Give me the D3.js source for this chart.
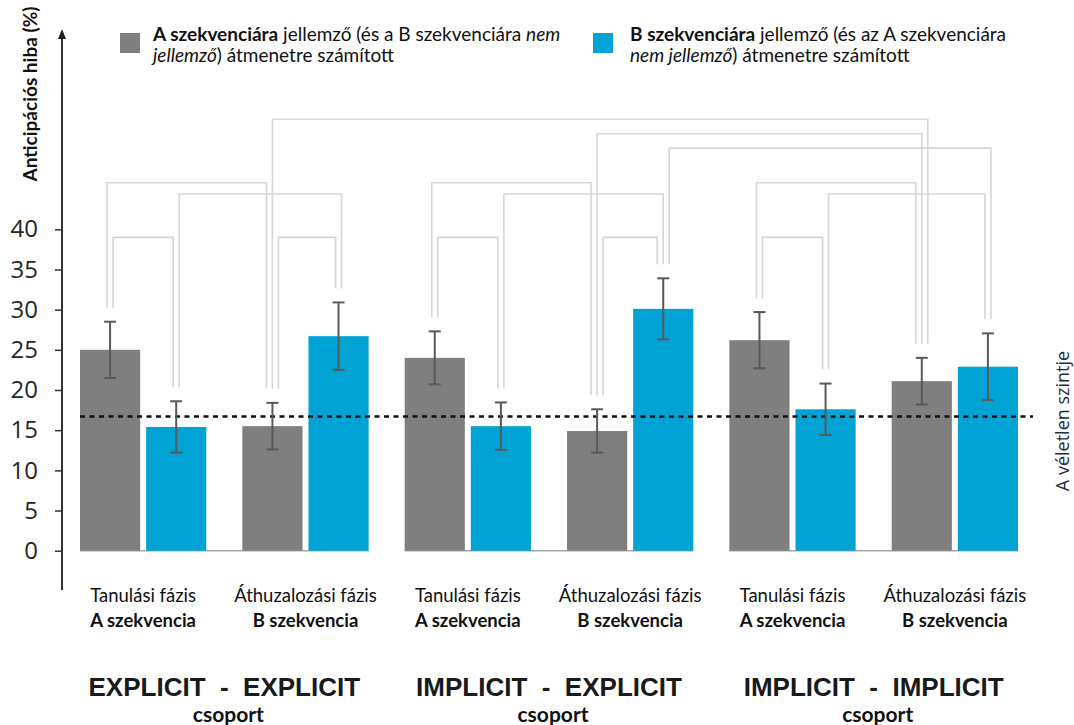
<!DOCTYPE html>
<html>
<head>
<meta charset="utf-8">
<script src="https://cdn.jsdelivr.net/npm/d3@7"></script>
<style>
  html, body { margin: 0; padding: 0; background: #fff; }
  svg { display: block; }
  text { white-space: pre; }
</style>
</head>
<body>
<svg id="chart" width="1074" height="725"></svg>
<script>
// Groups, phases and sequences along the x axis
const groups = ["EXPLICIT  -  EXPLICIT", "IMPLICIT  -  EXPLICIT", "IMPLICIT  -  IMPLICIT"];
const groupSub = ["csoport", "csoport", "csoport"];
const phases = ["Tanulási fázis", "Áthuzalozási fázis"];
const sequences = ["A szekvencia", "B szekvencia"];
const seriesKeys = ["A", "B"];

// Mean anticipation error (%) per group × phase, for A-typical and B-typical transitions
const valuesA = [25.0, 15.5, 24.0, 14.9, 26.2, 21.1];
const valuesB = [15.4, 26.7, 15.5, 30.1, 17.6, 22.9];
// Error bar half-lengths
const errorA = [3.5, 2.9, 3.3, 2.7, 3.5, 2.9];
const errorB = [3.2, 4.2, 2.95, 3.8, 3.2, 4.15];

const chanceLevel = 16.7;
const yTicks = [0, 5, 10, 15, 20, 25, 30, 35, 40];

// Significance brackets: [from bar, to bar, tier]; bars are numbered group*4 + phase*2 + series
const comparisons = [
  [0, 2, 3], [0, 1, 5], [1, 3, 4], [2, 3, 5], [2, 10, 0],
  [4, 6, 3], [4, 5, 5], [5, 7, 4], [6, 7, 5], [6, 10, 1], [7, 11, 2],
  [8, 10, 3], [8, 9, 5], [9, 11, 4]
];
// Height of each bracket tier, in axis units
const tierLevels = [53.7, 51.9, 50.1, 45.8, 44.4, 39.0];

const colors = { A: "#7f7f7f", B: "#00a3d4" };

const svg = d3.select("#chart");

const y = d3.scaleLinear().domain([0, 40]).range([550.7, 229.3]);

const xGroup = d3.scaleBand().domain(d3.range(groups.length)).range([80, 1018]).paddingInner(0.111);
const xPhase = d3.scaleBand().domain(d3.range(phases.length)).range([0, xGroup.bandwidth()]).paddingInner(0.222);
const xSeries = d3.scaleBand().domain(seriesKeys).range([0, xPhase.bandwidth()]).paddingInner(0.09);

// Flatten bars
const bars = [];
groups.forEach((g, gi) => {
  phases.forEach((p, pi) => {
    const k = gi * 2 + pi;
    seriesKeys.forEach((s, si) => {
      const v = s === "A" ? valuesA[k] : valuesB[k];
      const e = s === "A" ? errorA[k] : errorB[k];
      const x0 = xGroup(gi) + xPhase(pi) + xSeries(s);
      bars.push({ gi, pi, s, v, e, x0, cx: x0 + xSeries.bandwidth() / 2 });
    });
  });
});

// Y axis with arrow
const axisX = 62;
svg.append("defs").append("marker")
  .attr("id", "arrow").attr("viewBox", "0 0 10 10").attr("refX", 5).attr("refY", 5)
  .attr("markerWidth", 5).attr("markerHeight", 5).attr("orient", "auto")
  .append("path").attr("d", "M0,1 L10,5 L0,9 Z").attr("fill", "#222");

svg.append("line")
  .attr("x1", axisX).attr("x2", axisX).attr("y1", 590).attr("y2", 34)
  .attr("stroke", "#333").attr("stroke-width", 2).attr("marker-end", "url(#arrow)");

const yAxis = d3.axisLeft(y).tickValues(yTicks).tickSize(7).tickPadding(17).tickFormat(d3.format("d"));
const yAxisG = svg.append("g").attr("transform", `translate(${axisX},0)`).call(yAxis);
yAxisG.select(".domain").remove();
yAxisG.selectAll(".tick line").attr("stroke", "#333").attr("stroke-width", 1.5);
yAxisG.selectAll(".tick text")
  .attr("font-family", "'Open Sans', sans-serif").attr("font-size", 24).attr("fill", "#262626");

// Y axis title
svg.append("text")
  .attr("transform", "translate(37,94) rotate(-90)")
  .attr("text-anchor", "middle")
  .attr("font-family", "Lato, sans-serif").attr("font-weight", "bold").attr("font-size", 19)
  .attr("fill", "#111")
  .text("Anticipációs hiba (%)");

// Brackets
const legs = bars.map(() => []);
comparisons.forEach((c, ci) => {
  const [a, b, t] = c;
  legs[a].push({ ci, dir: "right", ty: y(tierLevels[t]) });
  legs[b].push({ ci, dir: "left", ty: y(tierLevels[t]) });
});
const legX = {};
legs.forEach((list, bi) => {
  const left = list.filter(d => d.dir === "left").sort((p, q) => q.ty - p.ty);
  const right = list.filter(d => d.dir === "right").sort((p, q) => p.ty - q.ty);
  const ordered = left.concat(right);
  ordered.forEach((d, i) => {
    legX[d.ci + "_" + bi] = bars[bi].cx + (i - (ordered.length - 1) / 2) * 6;
  });
});
const legGap = 14;
const bracketG = svg.append("g").attr("fill", "none").attr("stroke", "#d6d6d6").attr("stroke-width", 1.6);
comparisons.forEach((c, ci) => {
  const [a, b, t] = c;
  const ty = y(tierLevels[t]);
  const xa = legX[ci + "_" + a], xb = legX[ci + "_" + b];
  const ya = y(bars[a].v + bars[a].e) - legGap;
  const yb = y(bars[b].v + bars[b].e) - legGap;
  bracketG.append("path").attr("d", `M${xa},${ya} V${ty} H${xb} V${yb}`);
});

// Group baselines
svg.append("g").selectAll("line").data(groups).join("line")
  .attr("x1", (d, i) => xGroup(i)).attr("x2", (d, i) => xGroup(i) + xGroup.bandwidth())
  .attr("y1", y(0)).attr("y2", y(0))
  .attr("stroke", "#a6a6a6").attr("stroke-width", 1.5);

// Bars
svg.append("g").selectAll("rect").data(bars).join("rect")
  .attr("x", d => d.x0).attr("width", xSeries.bandwidth())
  .attr("y", d => y(d.v)).attr("height", d => y(0) - y(d.v))
  .attr("fill", d => colors[d.s]);

// Chance level line
svg.append("line")
  .attr("x1", 80).attr("x2", 1033).attr("y1", y(chanceLevel)).attr("y2", y(chanceLevel))
  .attr("stroke", "#111").attr("stroke-width", 2.5).attr("stroke-dasharray", "5,4.5");

// Error bars
const errG = svg.append("g").attr("stroke", "#595959").attr("stroke-width", 2);
bars.forEach(d => {
  const t = y(d.v + d.e), b = y(d.v - d.e);
  errG.append("line").attr("x1", d.cx).attr("x2", d.cx).attr("y1", t).attr("y2", b);
  errG.append("line").attr("x1", d.cx - 6).attr("x2", d.cx + 6).attr("y1", t).attr("y2", t);
  errG.append("line").attr("x1", d.cx - 6).attr("x2", d.cx + 6).attr("y1", b).attr("y2", b);
});

// Chance level label
svg.append("text")
  .attr("transform", `translate(1069,${(352 + 490) / 2}) rotate(-90)`)
  .attr("text-anchor", "middle")
  .attr("font-family", "'Open Sans', sans-serif").attr("font-size", 18)
  .attr("fill", "#1f2a44")
  .text("A véletlen szintje");

// Phase / sequence labels
const catG = svg.append("g").attr("font-family", "Lato, sans-serif").attr("fill", "#111").attr("text-anchor", "middle");
groups.forEach((g, gi) => {
  phases.forEach((p, pi) => {
    const cx = xGroup(gi) + xPhase(pi) + xPhase.bandwidth() / 2;
    catG.append("text").attr("x", cx).attr("y", 602).attr("font-size", 18.5).text(p);
    catG.append("text").attr("x", cx).attr("y", 627).attr("font-size", 18.5).attr("font-weight", "bold").text(sequences[pi]);
  });
  const gx = xGroup(gi) + xGroup.bandwidth() / 2;
  svg.append("text").attr("x", gx).attr("y", 696).attr("text-anchor", "middle")
    .attr("font-family", "'Liberation Sans', Arial, sans-serif").attr("font-weight", "bold")
    .attr("font-size", 26).attr("fill", "#1a1a1a").text(g);
  svg.append("text").attr("x", gx + 4).attr("y", 722).attr("text-anchor", "middle")
    .attr("font-family", "Lato, sans-serif").attr("font-weight", "bold")
    .attr("font-size", 21).attr("fill", "#111").text(groupSub[gi]);
});

// Legend
const legendItems = [
  { key: "A", sx: 120, tx: 153,
    lines: [
      [["A szekvenciára", "bold"], [" jellemző (és a B szekvenciára ", "normal"], ["nem", "italic"]],
      [["jellemző", "italic"], [") átmenetre számított", "normal"]]
    ] },
  { key: "B", sx: 593, tx: 630,
    lines: [
      [["B szekvenciára", "bold"], [" jellemző (és az A szekvenciára", "normal"]],
      [["nem jellemző", "italic"], [") átmenetre számított", "normal"]]
    ] }
];
legendItems.forEach(item => {
  svg.append("rect").attr("x", item.sx).attr("y", 33).attr("width", 20).attr("height", 20)
    .attr("fill", colors[item.key]);
  item.lines.forEach((line, li) => {
    const t = svg.append("text").attr("x", item.tx).attr("y", 41 + li * 21)
      .attr("font-family", "Lato, sans-serif").attr("font-size", 19).attr("fill", "#111");
    line.forEach(([str, style]) => {
      const ts = t.append("tspan").text(str);
      if (style === "bold") ts.attr("font-weight", "bold");
      if (style === "italic") ts.attr("font-style", "italic");
    });
  });
});
</script>
</body>
</html>
